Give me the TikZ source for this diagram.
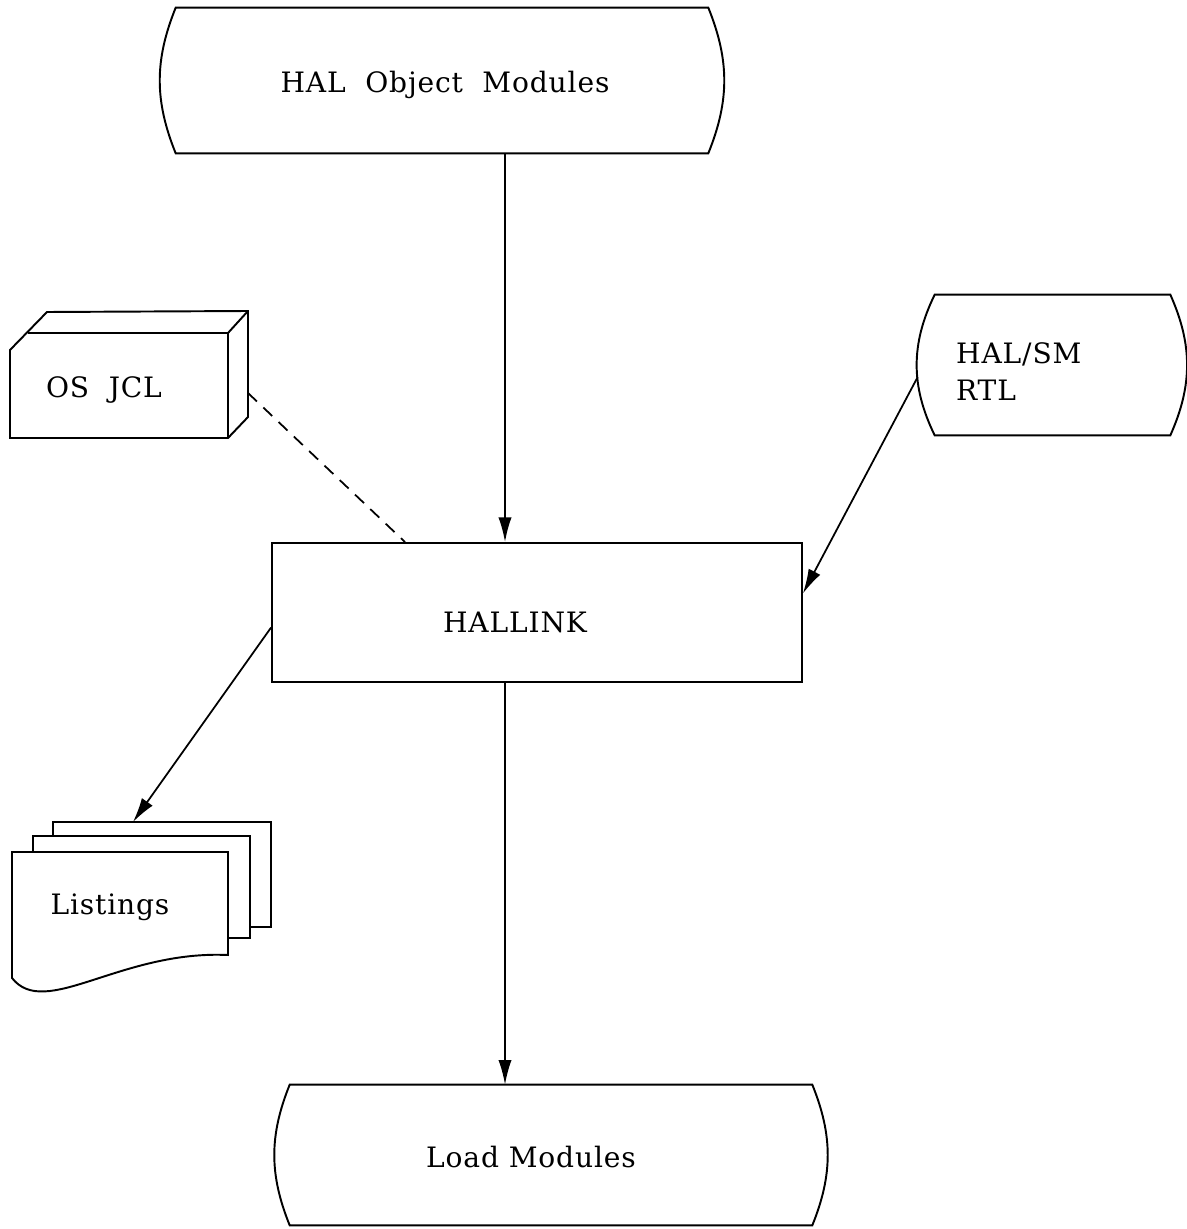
\documentclass[tikz,border=0pt]{standalone}
\usepackage{fontspec}
\setmainfont{DejaVu Serif}[LetterSpace=3]
\usetikzlibrary{calc}
\usetikzlibrary{arrows.meta,positioning}
\tikzset{
    flowarrow/.style={
        line width=1pt,
        black,
        -{Latex[length=14pt, width=7.5pt]}
    },
    % dashed control link
    jcllink/.style={
        line width=1pt,
        dash pattern=on 7pt off 5pt
    },
    outline/.style={line width=1.1pt, fill=white},
    shapebox/.style={inner sep=0pt, rectangle},
    lbl/.style={font=\fontsize{16}{21}\selectfont}
}

\begin{document}
\begin{tikzpicture}[x=0.02cm, y=-0.02cm]
   \useasboundingbox (0,0) rectangle (1186,1229);
   % data sets
   \node[shapebox, minimum width=10.64cm, minimum height=2.9cm] (obj) at (442,80.5) {};
   \draw[outline] (obj.north west) -- (obj.north east) to[bend left=22] (obj.south east)
        -- (obj.south west) to[bend left=22] cycle;
   \node[lbl] (objtxt) at (445,85) {HAL~ Object~ Modules};

   \node[shapebox, minimum width=10.44cm, minimum height=2.8cm] (load) at (551,1155) {};
   \draw[outline] (load.north west) -- (load.north east) to[bend left=22] (load.south east)
        -- (load.south west) to[bend left=22] cycle;
   \node[lbl] (loadtxt) at (531,1157) {Load Modules};

   \node[shapebox, minimum width=4.7cm, minimum height=2.8cm] (rtl) at (1052.5,365) {};
   \draw[outline] (rtl.north west) -- (rtl.north east) to[bend left=24] (rtl.south east)
        -- (rtl.south west) to[bend left=26] cycle;
   \node[lbl, align=left, anchor=west] (rtltxt) at (950,372) {HAL/SM\\RTL};

   % process
   \node[shapebox, draw, line width=1.1pt, minimum width=10.6cm, minimum height=2.78cm] (hal) at (537,612.5) {};
   \node[lbl] (haltxt) at (515,622) {HALLINK};

   % card deck
   \draw[outline] (10,350) -- (47,312) -- (248,311) -- (248,417) -- (228,438) -- (10,438) -- cycle;
   \draw[line width=1.1pt] (28,333) -- (228,333) -- (228,438);
   \draw[line width=1.1pt] (228,333) -- (248,311);
   \node[lbl] (jcl) at (104,390) {OS~ JCL};
   \coordinate (jclout) at (248,393);

   % listings
   \draw[outline] (53,822) rectangle (271,927);
   \draw[outline] (33,836) rectangle (250,938);
   \draw[outline] (12,852) -- (228,852) -- (228,955)
        .. controls (120,950) and (45,1020) .. (12,978) -- cycle;
   \node[lbl] (lst) at (110,907) {Listings};
   \coordinate (lstin) at (133,822);

   % flows
   \coordinate (spine) at (505,0);
   \draw[flowarrow] (obj.south -| spine) -- (hal.north -| spine);
   \draw[flowarrow] (hal.south -| spine) -- (load.north -| spine);
   \draw[flowarrow] ($(rtl.west)+(-17,12)$) -- ($(hal.east)+(0,-19)$);
   \draw[flowarrow] ($(hal.west)+(0,15)$) -- (lstin);
   \draw[jcllink] (jclout) -- (hal.north -| 405,0);
\end{tikzpicture}
\end{document}
